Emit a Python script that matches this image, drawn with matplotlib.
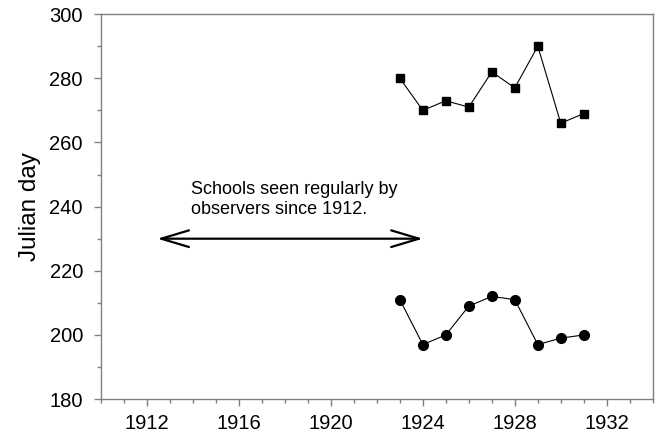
import matplotlib
matplotlib.use("Agg")
import matplotlib.pyplot as plt
from matplotlib.ticker import MultipleLocator

plt.rcParams['font.family'] = ['Liberation Sans', 'DejaVu Sans']

years = [1923, 1924, 1925, 1926, 1927, 1928, 1929, 1930, 1931]
upper_days = [280, 270, 273, 271, 282, 277, 290, 266, 269]
lower_days = [211, 197, 200, 209, 212, 211, 197, 199, 200]

arrow_start = (1912.45, 230)
arrow_end = (1924.0, 230)
note_pos = (1913.9, 236.3)
note_text = "Schools seen regularly by\nobservers since 1912."

fig = plt.figure(figsize=(6.6, 4.41), dpi=100)
ax = fig.add_axes([0.153, 0.095, 0.836, 0.873])

ax.plot(years, upper_days, color='black', lw=0.8, marker='s', ms=6.2,
        mfc='black', mec='black')
ax.plot(years, lower_days, color='black', lw=0.8, marker='o', ms=7,
        mfc='black', mec='black')

ax.annotate('', xy=arrow_end, xytext=arrow_start,
            arrowprops=dict(arrowstyle='<->,head_length=1.0,head_width=0.3',
                            color='black', lw=1.6, shrinkA=0, shrinkB=0,
                            mutation_scale=20))
ax.text(note_pos[0], note_pos[1], note_text, fontsize=13, ha='left',
        va='bottom', linespacing=1.25)

ax.set_xlim(1910, 1934)
ax.set_ylim(180, 300)
ax.xaxis.set_major_locator(MultipleLocator(4))
ax.xaxis.set_minor_locator(MultipleLocator(1))
ax.yaxis.set_major_locator(MultipleLocator(20))
ax.yaxis.set_minor_locator(MultipleLocator(10))
ax.set_xticks([1912, 1916, 1920, 1924, 1928, 1932])

spine_col = '#808080'
for s in ax.spines.values():
    s.set_color(spine_col)
    s.set_linewidth(1.0)
ax.tick_params(which='major', direction='out', length=5, width=1.0,
               color=spine_col, labelsize=14.5, labelcolor='black')
ax.tick_params(which='minor', direction='out', length=3, width=1.0,
               color=spine_col)
ax.tick_params(axis='y', which='major', pad=8)
ax.tick_params(axis='x', which='major', pad=6)

ax.set_ylabel('Julian day', fontsize=17.5, labelpad=6)

fig.savefig('out.png', dpi=100)
